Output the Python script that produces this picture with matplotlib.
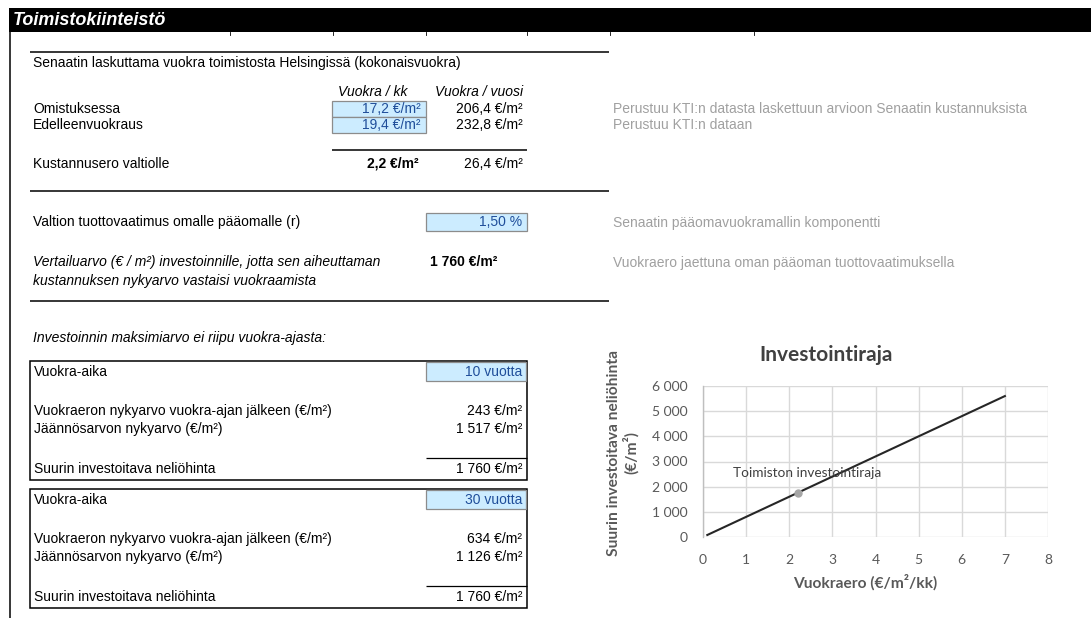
import numpy as np
import matplotlib.pyplot as plt
from matplotlib.patches import Rectangle

# --- taulukon arvot ---
rivit = ["Omistuksessa", "Edelleenvuokraus"]
vuokra_kk = [17.2, 19.4]
vuokra_vuosi = [206.4, 232.8]
huomiot = ["Perustuu KTI:n datasta laskettuun arvioon Senaatin kustannuksista",
           "Perustuu KTI:n dataan"]
ero_kk = 2.2
ero_vuosi = 26.4
tuottovaatimus = 1.50
vertailuarvo = 1760
vuokra_ajat = [10, 30]
vuokraeron_nykyarvo = [243, 634]
jaannosarvo = [1517, 1126]
suurin_hinta = [1760, 1760]

# --- kuvaajan arvot ---
vuokraero = [0.1, 1, 2, 3, 4, 5, 6, 7]
investointiraja = [80, 800, 1600, 2400, 3200, 4000, 4800, 5600]
toimisto_x = [2.2]
toimisto_y = [1760]


def fi(v, dec=0):
    return f"{v:,.{dec}f}".replace(",", " ").replace(".", ",")


W, H = 1091, 618
fig = plt.figure(figsize=(W / 100, H / 100), dpi=100)
ax = fig.add_axes([0, 0, 1, 1])
ax.set_xlim(0, W)
ax.set_ylim(H, 0)
ax.axis("off")

FONT = "Liberation Sans"
FS = 10
SININEN = "#1f4e9a"
HARMAA = "#a0a0a0"
SOLU = "#ccecff"


def t(x, y, s, **kw):
    kw.setdefault("fontsize", FS)
    kw.setdefault("family", FONT)
    kw.setdefault("va", "center")
    ax.text(x, y, s, **kw)


def viiva(x0, x1, y, lw=1.1):
    ax.plot([x0, x1], [y, y], color="black", lw=lw, solid_capstyle="butt")


def solu(x0, y0, x1, y1):
    ax.add_patch(Rectangle((x0, y0), x1 - x0, y1 - y0, facecolor=SOLU,
                           edgecolor="#8c8c8c", lw=0.9))


# otsikkopalkki
ax.add_patch(Rectangle((9, 8), W - 9, 24, facecolor="black", edgecolor="none"))
t(13, 20.5, "Toimistokiinteistö", color="white", fontsize=13,
  fontweight="bold", style="italic")
for xs in [230, 333, 426, 527, 610, 754]:
    ax.plot([xs, xs], [32, 35], color="black", lw=0.6)
ax.plot([10, 10], [32, H], color="black", lw=1.1)

# vuokraosio
viiva(30, 609, 52)
t(33, 63, "Senaatin laskuttama vuokra toimistosta Helsingissä (kokonaisvuokra)")
t(408, 92, "Vuokra / kk", style="italic", ha="right")
t(523, 92, "Vuokra / vuosi", style="italic", ha="right")
for i, nimi in enumerate(rivit):
    y = 109 + 16 * i
    solu(332, y - 8, 426, y + 8)
    t(33, y, nimi)
    t(421, y, fi(vuokra_kk[i], 1) + " €/m²", ha="right", color=SININEN)
    t(523, y, fi(vuokra_vuosi[i], 1) + " €/m²", ha="right")
    t(613, y, huomiot[i], color=HARMAA)
viiva(332, 527, 150)
t(33, 164, "Kustannusero valtiolle")
t(419, 164, fi(ero_kk, 1) + " €/m²", ha="right", fontweight="bold")
t(523, 164, fi(ero_vuosi, 1) + " €/m²", ha="right")

# tuottovaatimus
viiva(30, 609, 191)
t(33, 222, "Valtion tuottovaatimus omalle pääomalle (r)")
solu(426, 213, 527, 231)
t(522, 222, fi(tuottovaatimus, 2) + " %", ha="right", color=SININEN)
t(613, 223, "Senaatin pääomavuokramallin komponentti", color=HARMAA)
t(33, 262, "Vertailuarvo (€ / m²) investoinnille, jotta sen aiheuttaman",
  style="italic")
t(33, 281, "kustannuksen nykyarvo vastaisi vuokraamista", style="italic")
t(497, 262, fi(vertailuarvo) + " €/m²", ha="right", fontweight="bold")
t(613, 263, "Vuokraero jaettuna oman pääoman tuottovaatimuksella", color=HARMAA)
viiva(30, 609, 301)

# vuokra-aikalaatikot
t(33, 338, "Investoinnin maksimiarvo ei riipu vuokra-ajasta:", style="italic")
for i, aika in enumerate(vuokra_ajat):
    y0 = 361 + 128 * i
    ax.add_patch(Rectangle((30, y0), 497, 119, facecolor="none",
                           edgecolor="black", lw=1.1))
    ax.add_patch(Rectangle((426, y0 + 1), 100, 19, facecolor=SOLU,
                           edgecolor="#8c8c8c", lw=0.9))
    t(34, y0 + 11, "Vuokra-aika")
    t(522, y0 + 11, f"{aika} vuotta", ha="right", color=SININEN)
    t(34, y0 + 50, "Vuokraeron nykyarvo vuokra-ajan jälkeen (€/m²)")
    t(522, y0 + 50, fi(vuokraeron_nykyarvo[i]) + " €/m²", ha="right")
    t(34, y0 + 68, "Jäännösarvon nykyarvo (€/m²)")
    t(522, y0 + 68, fi(jaannosarvo[i]) + " €/m²", ha="right")
    viiva(426, 527, y0 + 97, lw=0.9)
    t(34, y0 + 108, "Suurin investoitava neliöhinta")
    t(522, y0 + 108, fi(suurin_hinta[i]) + " €/m²", ha="right")

# kuvaaja
CF = "Lato"
TXT = "#595959"
cx = fig.add_axes([703 / W, 1 - 537 / H, 345 / W, 151 / H])
cx.plot(vuokraero, investointiraja, color="#262626", lw=1.5, zorder=3)
cx.plot(toimisto_x, toimisto_y, "o", color="#a6a6a6", ms=5, zorder=4)
cx.annotate("Toimiston investointiraja", (toimisto_x[0], toimisto_y[0]),
            xytext=(7, 14), textcoords="offset points", fontsize=9.8,
            family=CF, color="#404040", ha="center", va="center", zorder=5)
cx.set_xlim(0, 8)
cx.set_ylim(0, 6000)
cx.set_xticks(range(0, 9))
cx.set_yticks(range(0, 7000, 1000))
cx.set_yticklabels([fi(v) for v in range(0, 7000, 1000)])
cx.grid(True, color="#d9d9d9", lw=1)
cx.set_axisbelow(True)
for s in ["top", "right", "bottom"]:
    cx.spines[s].set_visible(False)
cx.spines["left"].set_color("#bfbfbf")
cx.spines["left"].set_linewidth(1)
cx.tick_params(length=0, labelsize=10, labelcolor=TXT, pad=11)
cx.tick_params(axis="x", pad=12)
for lab in cx.get_xticklabels() + cx.get_yticklabels():
    lab.set_family(CF)

ax.text(826, 355, "Investointiraja", fontsize=15, fontweight="bold",
        family=CF, color="#404040", ha="center", va="center")
ax.text(865, 582, "Vuokraero (€/m²/kk)", fontsize=11.2, fontweight="bold",
        family=CF, color=TXT, ha="center", va="center")
ax.text(623, 453, "Suurin investoitava neliöhinta\n(€/m²)", fontsize=11.2,
        fontweight="bold", family=CF, color=TXT, ha="center", va="center",
        rotation=90, multialignment="center", linespacing=1.05)

fig.savefig("out.png", dpi=100)
